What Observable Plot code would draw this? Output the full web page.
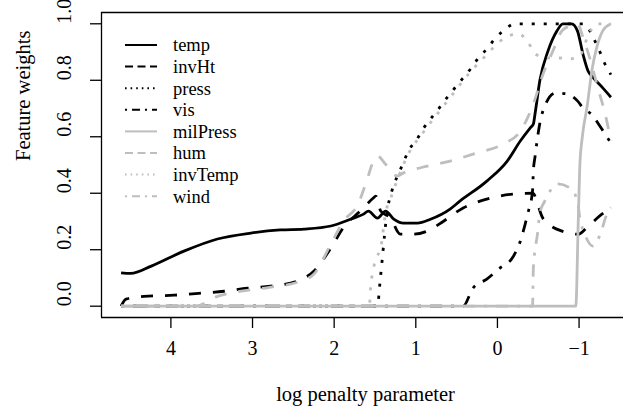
<!DOCTYPE html>
<html><head><meta charset="utf-8">
<script src="https://cdn.jsdelivr.net/npm/d3@7"></script>
<script src="https://cdn.jsdelivr.net/npm/@observablehq/plot@0.6"></script>
<style>body{margin:0;background:#fff} svg{display:block}</style>
</head><body><div id="chart"></div>
<script>
const seriesNames = ["temp","invHt","press","vis","milPress","hum","invTemp","wind"];

// [log penalty, weight]
const temp = [[4.61,0.118],[4.49,0.116],[4.24,0.142],[3.84,0.195],[3.43,0.238],[3.02,0.259],[2.66,0.270],[2.37,0.273],[2.04,0.284],[1.80,0.308],[1.64,0.326],[1.58,0.337],[1.47,0.312],[1.37,0.337],[1.27,0.308],[1.15,0.294],[0.98,0.294],[0.82,0.308],[0.58,0.344],[0.46,0.372],[0.13,0.443],[-0.12,0.514],[-0.28,0.585],[-0.40,0.631],[-0.44,0.645],[-0.46,0.68],[-0.52,0.80],[-0.62,0.904],[-0.73,0.975],[-0.80,1.0],[-0.91,1.0],[-0.98,0.975],[-1.05,0.89],[-1.11,0.833],[-1.17,0.81],[-1.29,0.773],[-1.39,0.74]];
const invHt = [[4.61,0],[4.55,0.025],[4.33,0.035],[3.96,0.039],[3.63,0.046],[3.35,0.053],[3.06,0.064],[2.78,0.071],[2.45,0.089],[2.25,0.124],[2.04,0.206],[1.89,0.277],[1.68,0.337],[1.52,0.383],[1.49,0.39],[1.43,0.337],[1.31,0.312],[1.19,0.255],[1.03,0.255],[0.86,0.266],[0.66,0.301],[0.42,0.348],[0.13,0.379],[-0.19,0.397],[-0.43,0.40],[-0.56,0.31],[-0.80,0.265],[-0.99,0.255],[-1.10,0.28],[-1.30,0.33],[-1.39,0.345]];
const press = [[4.61,0],[1.47,0],[1.44,0.08],[1.41,0.17],[1.38,0.26],[1.35,0.34],[1.31,0.39],[1.27,0.43],[1.21,0.47],[1.15,0.51],[1.09,0.55],[0.99,0.589],[0.91,0.628],[0.82,0.663],[0.72,0.699],[0.63,0.734],[0.53,0.77],[0.43,0.805],[0.33,0.84],[0.24,0.876],[0.13,0.911],[0.03,0.947],[-0.07,0.975],[-0.22,1.0],[-1.05,1.0],[-1.10,0.99],[-1.18,0.947],[-1.24,0.911],[-1.31,0.862],[-1.39,0.82]];
const vis = [[4.61,0],[0.42,0],[0.30,0.064],[0.13,0.096],[-0.03,0.135],[-0.19,0.174],[-0.28,0.23],[-0.34,0.291],[-0.38,0.337],[-0.43,0.408],[-0.44,0.479],[-0.46,0.528],[-0.52,0.649],[-0.58,0.709],[-0.71,0.755],[-0.85,0.752],[-0.98,0.727],[-1.05,0.702],[-1.17,0.674],[-1.23,0.649],[-1.31,0.613],[-1.39,0.578]];
const milPress = [[4.61,0],[-0.96,0],[-0.99,0.3],[-1.01,0.5],[-1.04,0.6],[-1.10,0.71],[-1.16,0.84],[-1.22,0.92],[-1.29,0.975],[-1.39,1.0]];
const hum = [[4.61,0],[3.70,0],[3.43,0.035],[3.14,0.053],[2.81,0.066],[2.41,0.089],[2.25,0.113],[2.04,0.22],[1.89,0.30],[1.71,0.36],[1.59,0.454],[1.52,0.514],[1.47,0.532],[1.37,0.503],[1.23,0.461],[1.15,0.472],[0.86,0.496],[0.58,0.514],[0.25,0.543],[-0.07,0.574],[-0.28,0.62],[-0.44,0.716],[-0.56,0.823],[-0.68,0.904],[-0.79,0.975],[-0.89,0.993],[-0.98,1.0],[-1.05,0.95],[-1.13,0.879],[-1.23,0.773],[-1.32,0.68],[-1.39,0.585]];
const invTemp = [[4.61,0],[1.57,0],[1.55,0.078],[1.53,0.117],[1.49,0.167],[1.43,0.206],[1.37,0.33],[1.31,0.38],[1.21,0.46],[1.09,0.54],[0.91,0.615],[0.63,0.72],[0.33,0.83],[0.12,0.894],[-0.01,0.933],[-0.14,0.957],[-0.25,0.965],[-0.38,0.933],[-0.46,0.894],[-0.61,0.879],[-0.74,0.879],[-0.89,0.876],[-1.01,0.887],[-1.10,0.95],[-1.16,0.985],[-1.22,1.0],[-1.39,1.0]];
const wind = [[4.61,0],[-0.43,0],[-0.44,0.135],[-0.49,0.255],[-0.52,0.33],[-0.58,0.372],[-0.67,0.418],[-0.74,0.433],[-0.89,0.418],[-0.98,0.372],[-1.01,0.312],[-1.07,0.255],[-1.17,0.213],[-1.26,0.255],[-1.34,0.326],[-1.39,0.35]];

const xTicks = [4,3,2,1,0,-1];
const yTicks = [0,0.2,0.4,0.6,0.8,1.0];
const xLabel = "log penalty parameter";
const yLabel = "Feature weights";

const seriesData = {temp, invHt, press, vis, milPress, hum, invTemp, wind};

const GRAY = "#bebebe";
const styleOf = {
  temp:     {stroke:"#000", dash:null,         ldash:null},
  invHt:    {stroke:"#000", dash:"12,12",      ldash:"8,4.5"},
  press:    {stroke:"#000", dash:"3,9",        ldash:"1.6,4"},
  vis:      {stroke:"#000", dash:"3,9,12,9",   ldash:"2,5,8,5"},
  milPress: {stroke:GRAY,   dash:null,         ldash:null},
  hum:      {stroke:GRAY,   dash:"12,12",      ldash:"8,4.5"},
  invTemp:  {stroke:GRAY,   dash:"3,9",        ldash:"1.6,4"},
  wind:     {stroke:GRAY,   dash:"3,9,12,9",   ldash:"2,5,8,5"}
};

const lineMarks = seriesNames.map(name => {
  const st = styleOf[name];
  const rows = seriesData[name].map(([x, y]) => ({x, y}));
  const opts = {x:"x", y:"y", stroke: st.stroke, strokeWidth: 2.8, curve: "monotone-x", strokeLinejoin:"round", strokeLinecap:"butt"};
  if (st.dash) opts.strokeDasharray = st.dash;
  return Plot.line(rows, opts);
});

const FONT = "'Liberation Serif', 'Times New Roman', serif";
const fmt = d => d < 0 ? "\u2212" + (-d) : String(d);

const plot = Plot.plot({
  width: 623,
  height: 411,
  marginLeft: 101,
  marginRight: 0,
  marginTop: 12,
  marginBottom: 94,
  style: {fontFamily: FONT, fontSize: "20px", background: "#fff", color: "#000"},
  x: {domain: [4.85, -1.63], range: [101, 630]},
  y: {domain: [-0.04, 1.04]},
  marks: [
    ...lineMarks,
    Plot.ruleY([-0.04, 1.04], {stroke:"#000", strokeWidth:1.3}),
    Plot.ruleX([4.85], {stroke:"#000", strokeWidth:1.3}),
    Plot.axisX({ticks: xTicks, tickSize: 11, tickPadding: 12, fontSize: 20, label: null, strokeWidth: 1.3, tickFormat: fmt}),
    Plot.axisY({ticks: yTicks, tickSize: 11, tickFormat: () => "", label: null, strokeWidth: 1.3}),
    Plot.text(yTicks, {y: d => d, text: d => d.toFixed(1), frameAnchor: "left", dx: -37, rotate: -90, fontSize: 20}),
    Plot.text([xLabel], {text: d => d, frameAnchor: "bottom", dx: 3, dy: 83, fontSize: 20.5}),
    Plot.text([yLabel], {text: d => d, frameAnchor: "left", dx: -78, dy: -4, rotate: -90, fontSize: 20.5})
  ]
});

document.getElementById("chart").appendChild(plot);

// legend
const svg = d3.select(plot);
const lg = svg.append("g").attr("font-family", FONT).attr("font-size", 18.5).attr("text-anchor", "start");
seriesNames.forEach((name, i) => {
  const st = styleOf[name];
  const y = 45 + i * 21.6;
  const ln = lg.append("line").attr("x1", 125).attr("x2", 157).attr("y1", y).attr("y2", y)
    .attr("stroke", st.stroke).attr("stroke-width", 2);
  if (st.ldash) ln.attr("stroke-dasharray", st.ldash);
  lg.append("text").attr("x", 173).attr("y", y).attr("dy", "0.35em").attr("fill", "#000").text(name);
});
</script>
</body></html>
